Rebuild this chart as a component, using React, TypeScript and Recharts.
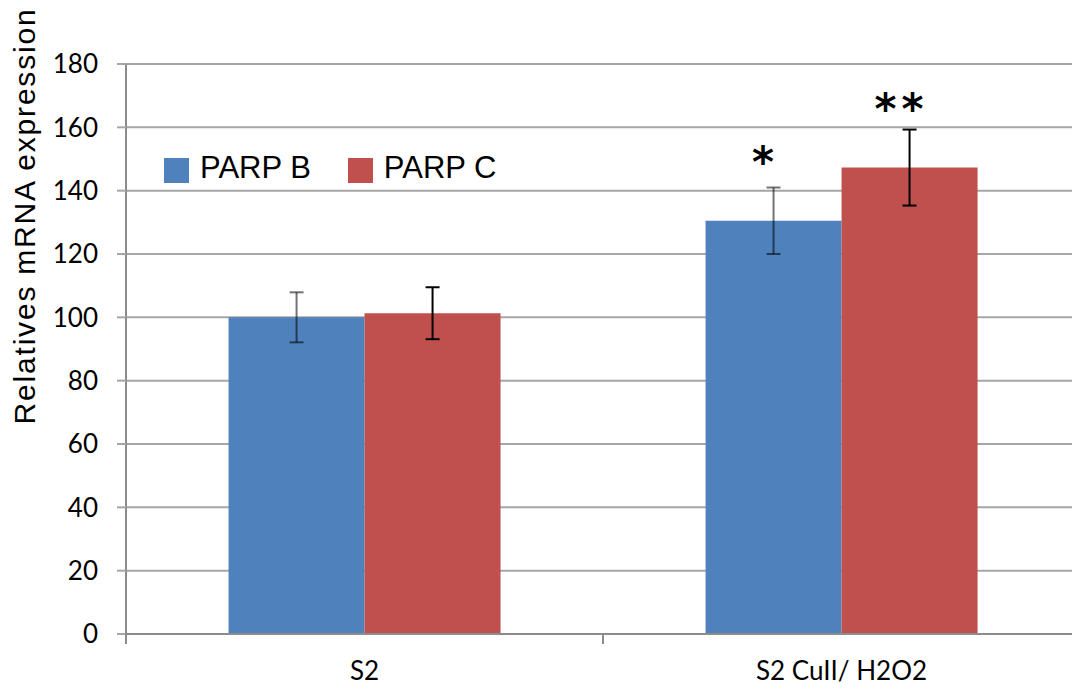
import React from "react";
import {
  BarChart, Bar, XAxis, YAxis, CartesianGrid, ErrorBar, LabelList, Legend, Label,
} from "recharts";

const groups = ["S2", "S2 CuII/ H2O2"];
const parpB = [100, 130.5];
const parpC = [101.3, 147.3];
const errB = [7.9, 10.5];
const errC = [8.2, 12];
const sigB = ["", "*"];
const sigC = ["", "**"];
const yTicks = [0, 20, 40, 60, 80, 100, 120, 140, 160, 180];

const data = groups.map((g, i) => ({
  group: g,
  parpB: parpB[i],
  parpC: parpC[i],
  errB: errB[i],
  errC: errC[i],
  sigB: sigB[i],
  sigC: sigC[i],
}));

const BLUE = "#4F81BD";
const RED = "#C0504D";
const GRID = "#a6a6a6";
const AXIS = "#8c8c8c";
const FONT = "Lato, 'Open Sans', sans-serif";
const tickFont = { fill: "#000", fontSize: 26, fontFamily: FONT };
const X_MARGIN = 28;

// category label plus the Excel-style tick mark on the left boundary of the band
function CategoryTick(props: any) {
  const { x, y, payload, width, visibleTicksCount } = props;
  const half = payload.offset ?? width / (visibleTicksCount || 1) / 2;
  const edge = payload.coordinate - half;
  const axisY = y - X_MARGIN;
  return (
    <g>
      <line x1={edge} x2={edge} y1={axisY} y2={axisY + 10} stroke={AXIS} strokeWidth={2} />
      <text x={x} y={y} dy="0.71em" textAnchor="middle" fontSize={26} fontFamily={FONT} fill="#000">
        {payload.value}
      </text>
    </g>
  );
}

function renderStar(props: any) {
  const { x, y, width, value } = props;
  if (!value) return null;
  return (
    <text
      x={x + width / 2 - 8}
      y={y - 44}
      textAnchor="middle"
      fontSize={42}
      fontWeight="bold"
      letterSpacing={5}
      fontFamily="'DejaVu Sans', sans-serif"
      fill="#000"
    >
      {value}
    </text>
  );
}

function renderLegend(props: any) {
  const payload = props.payload || [];
  return (
    <div style={{ display: "flex", alignItems: "center" }}>
      {payload.map((p: any, i: number) => (
        <div key={i} style={{ display: "flex", alignItems: "center", marginRight: 37 }}>
          <div style={{ width: 25, height: 25, background: p.color, marginRight: 11, marginTop: 5 }} />
          <span style={{ fontFamily: "'Liberation Sans', Arial, sans-serif", fontSize: 31, color: "#000", lineHeight: "36px" }}>
            {p.value}
          </span>
        </div>
      ))}
    </div>
  );
}

export default function App() {
  return (
    <div style={{ position: "absolute", left: 0, top: 0, width: 1072, height: 689, overflow: "hidden", background: "#fff" }}>
      <BarChart
        width={1090}
        height={689}
        data={data}
        margin={{ top: 64, right: 10, bottom: 15, left: 0 }}
        barCategoryGap="21.5%"
        barGap={0}
      >
        <CartesianGrid vertical={false} stroke={GRID} strokeWidth={2} />
        <XAxis
          dataKey="group"
          tick={<CategoryTick />}
          axisLine={{ stroke: AXIS, strokeWidth: 2 }}
          tickLine={false}
          tickSize={0}
          tickMargin={X_MARGIN}
          height={40}
        />
        <YAxis
          domain={[0, 180]}
          ticks={yTicks}
          interval={0}
          width={126}
          tick={tickFont}
          axisLine={{ stroke: AXIS, strokeWidth: 2 }}
          tickLine={{ stroke: GRID, strokeWidth: 2 }}
          tickSize={9}
          tickMargin={19}
        >
          <Label
            content={() => (
              <text
                x={35}
                y={216}
                transform="rotate(-90, 35, 216)"
                textAnchor="middle"
                fontSize={30}
                letterSpacing={1.8}
                fontFamily="'Liberation Sans', Arial, sans-serif"
                fill="#000"
              >
                Relatives mRNA expression
              </text>
            )}
          />
        </YAxis>
        <Legend
          layout="horizontal"
          verticalAlign="middle"
          align="center"
          content={renderLegend}
          wrapperStyle={{ top: 150, left: 164, width: "auto", height: "auto" }}
        />
        <Bar dataKey="parpB" name="PARP B" fill={BLUE} isAnimationActive={false}>
          <ErrorBar dataKey="errB" width={7} stroke="#000" strokeOpacity={0.55} strokeWidth={2} direction="y" />
          <LabelList dataKey="sigB" content={renderStar} />
        </Bar>
        <Bar dataKey="parpC" name="PARP C" fill={RED} isAnimationActive={false}>
          <ErrorBar dataKey="errC" width={7} stroke="#000" strokeWidth={2} direction="y" />
          <LabelList dataKey="sigC" content={renderStar} />
        </Bar>
      </BarChart>
    </div>
  );
}
